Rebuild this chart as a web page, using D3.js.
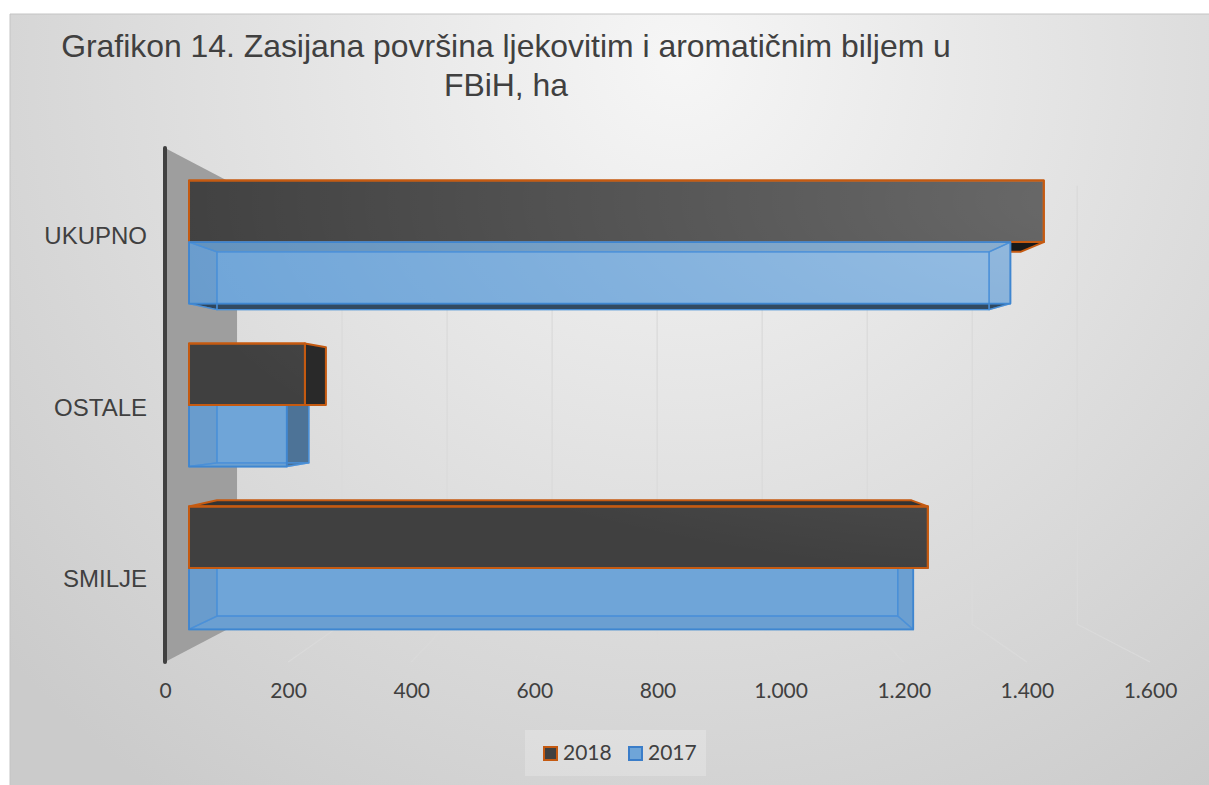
<!DOCTYPE html>
<html>
<head>
<meta charset="utf-8">
<script src="https://cdn.jsdelivr.net/npm/d3@7"></script>
<style>
body { margin: 0; background: #fff; }
svg { display: block; }
</style>
</head>
<body>
<div id="chart"></div>
<script>
const categories = ['UKUPNO', 'OSTALE', 'SMILJE'];
const seriesNames = ['2018', '2017'];
const values2018 = [1460, 198, 1262];
const values2017 = [1403, 167, 1237];
const xTicks = [0, 200, 400, 600, 800, 1000, 1200, 1400, 1600];
const titleLines = ['Grafikon 14. Zasijana površina ljekovitim i aromatičnim biljem u', 'FBiH, ha'];

const config = {
    width: 1209,
    height: 785,
    frame: {left: 10, top: 14},
    // plot box as seen on its front plane
    front: {left: 165, right: 1150, top: 148, bottom: 662},
    eye: {x: 655, y: 405},
    depth: {wall: 0.853, barFront: 0.951, barBack: 0.894},
    text: '#404040',
    orange: '#C55A11'
};

const series = [
    {name: seriesNames[0], values: values2018},
    {name: seriesNames[1], values: values2017}
];

const fmt = d3.formatLocale({decimal: ',', thousands: '.', grouping: [3], currency: ['', '']}).format(',d');

// perspective: k = 1 is the front plane, smaller k lies further back
const proj = (x, y, k) => [
    config.eye.x + (x - config.eye.x) * k,
    config.eye.y + (y - config.eye.y) * k
];

const pts = arr => arr.map(p => p.join(',')).join(' ');

const svg = d3.select('#chart').append('svg')
    .attr('width', config.width)
    .attr('height', config.height);

const defs = svg.append('defs');

const bg = defs.append('radialGradient')
    .attr('id', 'bg')
    .attr('gradientUnits', 'userSpaceOnUse')
    .attr('cx', 680).attr('cy', 60).attr('r', 900);
bg.append('stop').attr('offset', 0).attr('stop-color', '#f6f6f6');
bg.append('stop').attr('offset', 1).attr('stop-color', '#cbcbcb');

const makeLight = (id, strength) => {
    const light = defs.append('radialGradient')
        .attr('id', id)
        .attr('gradientUnits', 'userSpaceOnUse')
        .attr('cx', 1100).attr('cy', 200).attr('r', 950)
        .attr('gradientTransform', 'translate(1100,200) scale(1,0.4) translate(-1100,-200)');
    light.append('stop').attr('offset', 0).attr('stop-color', '#fff').attr('stop-opacity', strength);
    light.append('stop').attr('offset', 1).attr('stop-color', '#fff').attr('stop-opacity', 0);
};
makeLight('light', 0.22);
makeLight('lightBlue', 0.3);

// chart area
svg.append('rect')
    .attr('x', config.frame.left).attr('y', config.frame.top)
    .attr('width', config.width - config.frame.left)
    .attr('height', config.height - config.frame.top)
    .attr('fill', 'url(#bg)');
svg.append('path')
    .attr('d', `M${config.frame.left},${config.height}V${config.frame.top}H${config.width}`)
    .attr('fill', 'none')
    .attr('stroke', '#c4c4c4');

const x = d3.scaleLinear()
    .domain([0, 1600])
    .range([config.front.left, config.front.right]);

const y0 = d3.scaleBand()
    .domain(categories)
    .range([config.front.top, config.front.bottom]);

const y1 = d3.scaleBand()
    .domain(seriesNames)
    .range([0, y0.bandwidth()])
    .paddingOuter(0.324);

const f = config.front;
const d = config.depth;

// side wall
svg.append('polygon')
    .attr('points', pts([[f.left, f.top], proj(f.left, f.top, d.wall), proj(f.left, f.bottom, d.wall), [f.left, f.bottom]]))
    .attr('fill', '#9e9e9e');

// gridlines on back wall and floor
const grid = svg.append('g')
    .attr('fill', 'none')
    .attr('stroke', '#dadada')
    .attr('stroke-width', 1.3);
xTicks.filter(v => v > 0).forEach(v => {
    const top = proj(x(v), f.top, d.wall);
    const bot = proj(x(v), f.bottom, d.wall);
    grid.append('path').attr('d', d3.line()([top, bot, [x(v), f.bottom]]));
});

// category axis line
svg.append('line')
    .attr('x1', f.left).attr('x2', f.left)
    .attr('y1', f.top).attr('y2', f.bottom)
    .attr('stroke', config.text)
    .attr('stroke-width', 4)
    .attr('stroke-linecap', 'round');

// bars as boxes
const boxes = [];
categories.forEach((c, i) => {
    series.forEach(s => {
        const top = y0(c) + y1(s.name);
        boxes.push({
            series: s.name,
            xl: x(0), xr: x(s.values[i]),
            yt: top, yb: top + y1.bandwidth()
        });
    });
});
// paint the boxes furthest from eye level first
boxes.sort((a, b) => Math.abs((b.yt + b.yb) / 2 - config.eye.y) - Math.abs((a.yt + a.yb) / 2 - config.eye.y));

const bars = svg.append('g');
boxes.forEach(b => {
    const F = (px, py) => proj(px, py, d.barFront);
    const B = (px, py) => proj(px, py, d.barBack);
    const faces = {
        front: [F(b.xl, b.yt), F(b.xr, b.yt), F(b.xr, b.yb), F(b.xl, b.yb)],
        back: [B(b.xl, b.yt), B(b.xr, b.yt), B(b.xr, b.yb), B(b.xl, b.yb)],
        top: [F(b.xl, b.yt), F(b.xr, b.yt), B(b.xr, b.yt), B(b.xl, b.yt)],
        bottom: [F(b.xl, b.yb), F(b.xr, b.yb), B(b.xr, b.yb), B(b.xl, b.yb)],
        left: [F(b.xl, b.yt), F(b.xl, b.yb), B(b.xl, b.yb), B(b.xl, b.yt)],
        right: [F(b.xr, b.yt), F(b.xr, b.yb), B(b.xr, b.yb), B(b.xr, b.yt)]
    };
    const seen = {
        top: b.yt > config.eye.y,
        bottom: b.yb < config.eye.y,
        right: b.xr < config.eye.x
    };
    const g = bars.append('g');

    if (b.series === '2018') {
        const shade = {top: '#333333', bottom: '#181818', right: '#292929'};
        ['top', 'bottom', 'right'].filter(k => seen[k]).forEach(k => {
            g.append('polygon').attr('points', pts(faces[k]))
                .attr('fill', shade[k]);
        });
        g.append('polygon').attr('points', pts(faces.front)).attr('fill', '#404040');
        g.append('polygon').attr('points', pts(faces.front)).attr('fill', 'url(#light)');
        g.selectAll('polygon')
            .attr('stroke', config.orange)
            .attr('stroke-width', 2)
            .attr('stroke-linejoin', 'round');
    } else {
        const all = [].concat(faces.front, faces.back);
        g.append('polygon').attr('points', pts(d3.polygonHull(all))).attr('fill', '#6fa5d8');
        const dark = {
            top: seen.top ? 0.15 : 0.12,
            bottom: seen.bottom ? 0.55 : 0.03,
            left: 0.05,
            right: seen.right ? 0.3 : 0.03
        };
        Object.keys(dark).forEach(k => {
            g.append('polygon').attr('points', pts(faces[k]))
                .attr('fill', '#000').attr('fill-opacity', dark[k]);
        });
        g.append('polygon').attr('points', pts(faces.front)).attr('fill', 'url(#lightBlue)');
        const edges = g.append('g')
            .attr('fill', 'none')
            .attr('stroke', '#4a90d8')
            .attr('stroke-width', 1.4)
            .attr('stroke-linejoin', 'round');
        ['back', 'top', 'bottom', 'left', 'right'].forEach(k => {
            edges.append('polygon').attr('points', pts(faces[k])).attr('stroke-opacity', 0.8);
        });
        edges.append('polygon').attr('points', pts(faces.front))
            .attr('stroke', '#3f86d0').attr('stroke-width', 1.8);
    }
});

// value axis labels along the front edge of the floor
const xAxis = svg.append('g')
    .attr('transform', `translate(0,${f.bottom})`)
    .call(d3.axisBottom(x).tickValues(xTicks).tickFormat(fmt).tickSize(0).tickPadding(21));
xAxis.select('.domain').remove();
xAxis.selectAll('text')
    .attr('fill', config.text)
    .style('font-family', 'Lato, "Open Sans", sans-serif')
    .style('font-size', '21px');

// category labels
svg.append('g')
    .selectAll('text')
    .data(categories)
    .enter().append('text')
        .attr('x', 147)
        .attr('y', c => y0(c) + y0.bandwidth() / 2 + 2)
        .attr('text-anchor', 'end')
        .attr('dominant-baseline', 'central')
        .attr('fill', config.text)
        .style('font-family', '"Liberation Sans", Arial, sans-serif')
        .style('font-size', '24px')
        .text(c => c);

// title
svg.append('g')
    .selectAll('text')
    .data(titleLines)
    .enter().append('text')
        .attr('x', 506)
        .attr('y', (t, i) => 57 + i * 39)
        .attr('text-anchor', 'middle')
        .attr('fill', config.text)
        .style('font-family', '"Liberation Sans", Arial, sans-serif')
        .style('font-size', '31.9px')
        .text(t => t);

// legend
const legend = svg.append('g');
legend.append('rect')
    .attr('x', 525).attr('y', 730)
    .attr('width', 181).attr('height', 46)
    .attr('fill', '#fff').attr('fill-opacity', 0.22);
const legendItems = [
    {name: seriesNames[0], fill: '#404040', stroke: config.orange},
    {name: seriesNames[1], fill: '#6fa5d8', stroke: '#3a7dc9'}
];
legendItems.forEach((item, i) => {
    const lx = 544 + i * 85;
    legend.append('rect')
        .attr('x', lx).attr('y', 747)
        .attr('width', 13).attr('height', 13)
        .attr('fill', item.fill)
        .attr('stroke', item.stroke)
        .attr('stroke-width', 2);
    legend.append('text')
        .attr('x', lx + 19).attr('y', 760)
        .attr('fill', config.text)
        .style('font-family', 'Lato, "Open Sans", sans-serif')
        .style('font-size', '21px')
        .text(item.name);
});
</script>
</body>
</html>
